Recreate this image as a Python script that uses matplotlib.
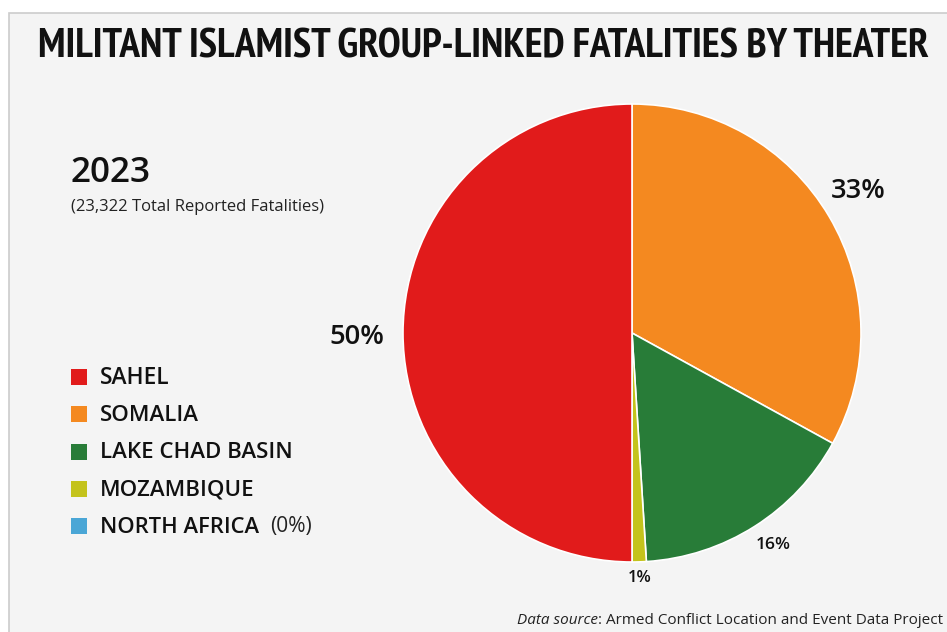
import matplotlib
matplotlib.use("Agg")
import matplotlib.pyplot as plt
from matplotlib import font_manager
from matplotlib.font_manager import FontProperties
from matplotlib.patches import Rectangle

# ---- data ----
regions = ["SAHEL", "SOMALIA", "LAKE CHAD BASIN", "MOZAMBIQUE", "NORTH AFRICA"]
shares = [50, 33, 16, 1, 0]
pie_order = ["SOMALIA", "LAKE CHAD BASIN", "MOZAMBIQUE", "NORTH AFRICA", "SAHEL"]
colors = {"SAHEL": "#e11b1b", "SOMALIA": "#f48920", "LAKE CHAD BASIN": "#287c38",
          "MOZAMBIQUE": "#c4c31c", "NORTH AFRICA": "#4aa6d6"}
pct_labels = ["33%", "16%", "1%", "", "50%"]
title = "MILITANT ISLAMIST GROUP-LINKED FATALITIES BY THEATER"
year = "2023"
subtitle = "(23,322 Total Reported Fatalities)"
source_italic = "Data source"
source_rest = ": Armed Conflict Location and Event Data Project"

W, H = 947, 632
fig = plt.figure(figsize=(W / 100, H / 100), dpi=100)
fig.patch.set_facecolor("white")

# find a condensed bold font for the title if one exists
def _is_condensed(f):
    s = f.stretch
    if isinstance(s, str):
        cond = "condensed" in s or "narrow" in s
    else:
        cond = s < 500
    return cond or "Narrow" in f.name or "Condensed" in f.name or "Condensed" in f.fname

def _is_bold(f):
    w = f.weight
    if isinstance(w, str):
        return w in ("bold", "heavy", "black", "extra bold", "demibold", "semibold")
    return w >= 600

cands = [f for f in font_manager.fontManager.ttflist
         if _is_condensed(f) and _is_bold(f) and "Oblique" not in f.fname
         and "Italic" not in f.fname and f.style == "normal"]
if cands:
    cands.sort(key=lambda f: (0 if "Narrow" in f.name or "Narrow" in f.fname else 1, f.fname))
    title_fp = FontProperties(fname=cands[0].fname)
else:
    title_fp = FontProperties(family="DejaVu Sans", weight="bold")

SANS = ["Open Sans", "DejaVu Sans"]

# background panel
fig.patches.append(Rectangle((9 / W, -0.1), 1.2, 1 - 13 / H + 0.1, transform=fig.transFigure,
                             facecolor="#f4f4f4", edgecolor="#cccccc", linewidth=1.2,
                             zorder=-5))

renderer = fig.canvas.get_renderer()


def px(x, y):
    return x / W, 1 - y / H


def fit_text(x, y, s, target_w, ha="left", va="center", **kw):
    t = fig.text(*px(x, y), s, ha=ha, va=va, **kw)
    bb = t.get_window_extent(renderer)
    t.set_fontsize(t.get_fontsize() * target_w / bb.width)
    return t


# title
tt = fig.text(*px(38, 47), title, ha="left", va="center", fontproperties=title_fp,
              color="#111111")
tt.set_fontsize(30)
bb = tt.get_window_extent(renderer)
tt.set_fontsize(min(30 * 892 / bb.width, 31))

# year + subtitle
fit_text(71, 173, year, 80, family=SANS, fontweight="semibold", fontsize=26, color="#111111")
fit_text(71, 207, subtitle, 254, family=SANS, fontsize=11.5, color="#222222")

# pie
ax = fig.add_axes([(632 - 229) / W, (H - 333 - 229) / H, 458 / W, 458 / H])
vals = [shares[regions.index(r)] for r in pie_order]
ax.pie(vals, colors=[colors[r] for r in pie_order], startangle=90, counterclock=False,
       radius=1, wedgeprops=dict(edgecolor="white", linewidth=1.2))
ax.set_xlim(-1, 1)
ax.set_ylim(-1, 1)
ax.set_aspect("equal")
ax.axis("off")

# percentage labels
label_pos = {"33%": (858, 191, 55, 19.5), "50%": (357, 337, 55, 19.5),
             "16%": (773, 545, 35, 12.5), "1%": (640, 578, 24, 12.5)}
for lab in pct_labels:
    if lab:
        x, y, w, fs = label_pos[lab]
        fit_text(x, y, lab, w, ha="center", family=SANS, fontweight="semibold",
                 fontsize=fs, color="#111111")

# legend
leg_y0, leg_dy = 377, 37.3
leg_widths = {"SAHEL": 70, "SOMALIA": 99, "LAKE CHAD BASIN": 193, "MOZAMBIQUE": 155,
              "NORTH AFRICA": 160}
for i, r in enumerate(regions):
    yy = leg_y0 + i * leg_dy
    fig.patches.append(Rectangle(px(71, yy + 8), 16 / W, 16 / H, transform=fig.transFigure,
                                 facecolor=colors[r], edgecolor="none", zorder=2))
    fit_text(100, yy + 1, r, leg_widths[r], family=SANS, fontweight="semibold",
             fontsize=16, color="#111111")
    if r == "NORTH AFRICA":
        fit_text(270, yy, "(0%)", 42, family=SANS, fontsize=12, color="#222222")

# data source (italic part + regular part, fitted to the reference width)
src_fs = 12
t1 = fig.text(*px(517, 621), source_italic, ha="left", va="center", family=SANS,
              fontstyle="italic", fontsize=src_fs, color="#222222")
t2 = fig.text(*px(517, 621), source_rest, ha="left", va="center", family=SANS,
              fontsize=src_fs, color="#222222")
w_total = t1.get_window_extent(renderer).width + t2.get_window_extent(renderer).width
src_fs = src_fs * 424 / w_total
t1.set_fontsize(src_fs)
t2.set_fontsize(src_fs)
b1 = t1.get_window_extent(renderer)
t2.set_x(b1.x1 / W)

fig.savefig("out.png", dpi=100, facecolor=fig.get_facecolor())
